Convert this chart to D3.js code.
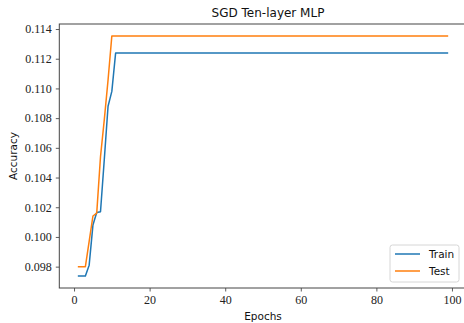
<!DOCTYPE html>
<html>
<head>
<meta charset="utf-8">
<script src="https://cdn.jsdelivr.net/npm/d3@7"></script>
<style>
  body { margin: 0; background: #fff; }
  svg { display: block; }
</style>
</head>
<body>
<svg class="chart" width="464" height="323"></svg>
<script>
// data
const epochs = d3.range(1, 100);
const trainHead = [0.09737, 0.09737, 0.09737, 0.0981, 0.1008, 0.10164, 0.1017, 0.1052, 0.1088, 0.1098];
const testHead = [0.0980, 0.0980, 0.0980, 0.0997, 0.10141, 0.1016, 0.1054, 0.10788, 0.11057, 0.11353];
const trainFlat = 0.11238;
const testFlat = 0.11353;
const train = epochs.map((e, i) => i < trainHead.length ? trainHead[i] : trainFlat);
const test = epochs.map((e, i) => i < testHead.length ? testHead[i] : testFlat);
const xTicks = [0, 20, 40, 60, 80, 100];
const yTicks = [0.098, 0.100, 0.102, 0.104, 0.106, 0.108, 0.110, 0.112, 0.114];
const seriesNames = ["Train", "Test"];
const colors = ["#1f77b4", "#ff7f0e"];

let svg = d3.select("svg.chart");
const box = {left: 59.3, right: 466.7, top: 24, bottom: 288};

// scales, matplotlib style 5% margins
let x = d3.scaleLinear().domain([-3.9, 103.9]).range([box.left, box.right]);
let yMin = d3.min(train.concat(test)), yMax = d3.max(train.concat(test));
let pad = (yMax - yMin) * 0.05;
let y = d3.scaleLinear().domain([yMin - pad, yMax + pad]).range([box.bottom, box.top]);

const serif = "'Liberation Serif', 'DejaVu Serif', serif";
const sans = "'DejaVu Sans', sans-serif";

// lines
let line = d3.line().x(d => x(d[0])).y(d => y(d[1]));
[train, test].forEach((s, k) => {
  svg.append("path")
    .datum(epochs.map((e, i) => [e, s[i]]))
    .attr("d", line)
    .attr("fill", "none")
    .attr("stroke", colors[k])
    .attr("stroke-width", 1.5)
    .attr("stroke-linejoin", "round");
});

// axes
let xAxis = svg.append("g")
  .attr("transform", `translate(0,${box.bottom})`)
  .call(d3.axisBottom(x).tickValues(xTicks).tickSize(3.5).tickPadding(4).tickFormat(d3.format("d")));
let yAxis = svg.append("g")
  .attr("transform", `translate(${box.left},0)`)
  .call(d3.axisLeft(y).tickValues(yTicks).tickSize(3.5).tickPadding(4).tickFormat(d3.format(".3f")));
[xAxis, yAxis].forEach(g => {
  g.attr("font-family", null).attr("font-size", null);
  g.select(".domain").remove();
  g.selectAll("line").attr("stroke", "#333").attr("stroke-width", 0.8);
  g.selectAll("text").style("font-family", serif).style("font-size", "12px").attr("fill", "#222");
});

// spines
svg.append("rect")
  .attr("x", box.left).attr("y", box.top)
  .attr("width", box.right - box.left).attr("height", box.bottom - box.top)
  .attr("fill", "none").attr("stroke", "#444").attr("stroke-width", 1);

// title and labels
svg.append("text").attr("x", 268).attr("y", 17).attr("text-anchor", "middle")
  .attr("font-family", sans).attr("font-size", 12).attr("fill", "#111")
  .text("SGD Ten-layer MLP");
svg.append("text").attr("x", 263).attr("y", 320).attr("text-anchor", "middle")
  .attr("font-family", sans).attr("font-size", 10.5).attr("fill", "#111")
  .text("Epochs");
svg.append("text").attr("transform", "translate(17,156) rotate(-90)").attr("text-anchor", "middle")
  .attr("font-family", sans).attr("font-size", 10.5).attr("fill", "#111")
  .text("Accuracy");

// legend
let legend = svg.append("g");
legend.append("rect")
  .attr("x", 390).attr("y", 245).attr("width", 69).attr("height", 37).attr("rx", 2.5)
  .attr("fill", "#fff").attr("fill-opacity", 0.8).attr("stroke", "#ccc").attr("stroke-width", 0.8);
seriesNames.forEach((name, k) => {
  let ly = 254 + k * 17;
  legend.append("line").attr("x1", 395).attr("x2", 420).attr("y1", ly).attr("y2", ly)
    .attr("stroke", colors[k]).attr("stroke-width", 1.5);
  legend.append("text").attr("x", 429).attr("y", ly + 3.8)
    .attr("font-family", sans).attr("font-size", 10.5).attr("fill", "#111")
    .text(name);
});
</script>
</body>
</html>
